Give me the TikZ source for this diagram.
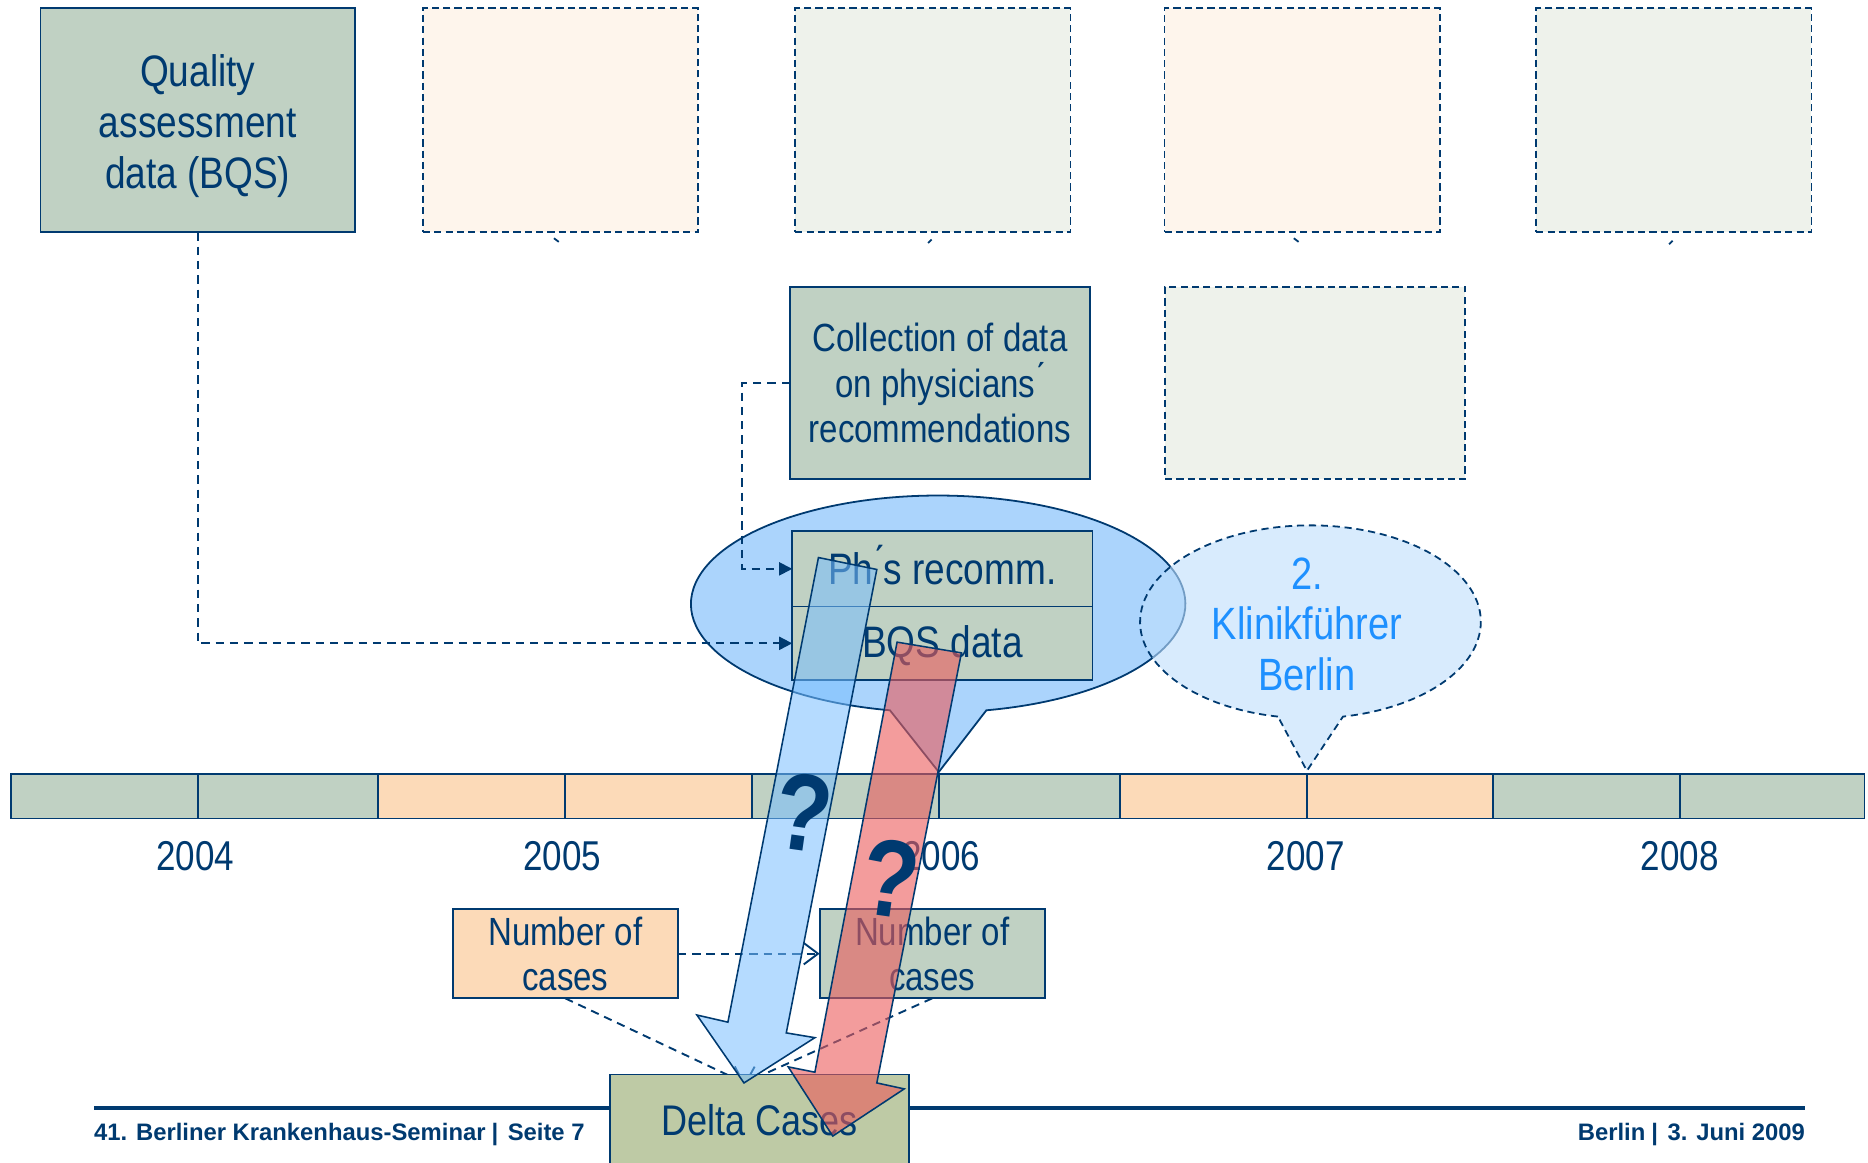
\documentclass[tikz,border=0pt]{standalone}
\usepackage{fontspec}
\setmainfont{Liberation Sans}[FakeStretch=0.84]
\newfontfamily\footfont{Liberation Sans}
\usetikzlibrary{arrows.meta}
\definecolor{dkblue}{RGB}{0,58,112}
\definecolor{boxgreen}{RGB}{192,209,195}
\definecolor{boxpeach}{RGB}{252,218,184}
\definecolor{ghostpeach}{RGB}{254,245,236}
\definecolor{ghostgreen}{RGB}{238,242,235}
\definecolor{deltagreen}{RGB}{190,202,165}
\definecolor{ellblue}{RGB}{120,185,250}
\definecolor{klinikblue}{RGB}{190,222,252}
\definecolor{klinikink}{RGB}{30,144,255}
\definecolor{arrowblue}{RGB}{120,190,255}
\definecolor{arrowred}{RGB}{235,90,90}
\tikzset{
  every node/.style={inner sep=0pt, outer sep=0pt, text=dkblue, align=center},
  solidbox/.style={draw=dkblue, line width=1.5pt, fill=boxgreen},
  ghostbox/.style={draw=dkblue, line width=1.5pt, dash pattern=on 6pt off 3.5pt},
  conn/.style={draw=dkblue, line width=1.6pt, dash pattern=on 7pt off 5pt},
  filltip/.style={-{Triangle[length=11pt,width=11pt]}},
  opentip/.style={-{Straight Barb[length=12pt,width=18pt,line width=1.6pt]}},
  bigtext/.style={font=\fontsize{37}{43}\selectfont},
  midtext/.style={font=\fontsize{33}{38}\selectfont},
  yeartext/.style={font=\fontsize{35}{40}\selectfont},
  foot/.style={font=\footfont\bfseries\fontsize{20}{24}\selectfont},
  qmark/.style={font=\bfseries\fontsize{92}{92}\selectfont, rotate=-8},
  bigarrow/.style={draw=dkblue, line width=1.3pt},
}
\begin{document}
\begin{tikzpicture}[x=1pt,y=-1pt]
\useasboundingbox (0,0) rectangle (1568,975.4);

% top row
\node[solidbox, minimum width=264pt, minimum height=188pt,
      label={[bigtext, yshift=-5pt]center:Quality\\assessment\\data (BQS)}] (qual) at (166,101) {};
\node[ghostbox, fill=ghostpeach, minimum width=231pt, minimum height=188pt] (g1) at (470.5,101) {};
\node[ghostbox, fill=ghostgreen, minimum width=231pt, minimum height=188pt] (g2) at (783,101) {};
\node[ghostbox, fill=ghostpeach, minimum width=231pt, minimum height=188pt] (g3) at (1093,101) {};
\node[ghostbox, fill=ghostgreen, minimum width=231pt, minimum height=188pt] (g4) at (1405,101) {};
\foreach \a/\b/\c/\d in {465/200/469/203, 782/201/779/204, 1086/200/1090/203, 1404/202/1401/205}
  \draw[dkblue, line width=1.5pt] (\a,\b) -- (\c,\d);

% second row
\node[solidbox, midtext, minimum width=252pt, minimum height=161pt] (coll) at (789,321.5) {Collection of data\\on physicians\'{}\\recommendations};
\node[ghostbox, fill=ghostgreen, minimum width=252pt, minimum height=161pt] (g5) at (1104,321.5) {};

% callouts
\path[draw=dkblue, line width=1.5pt, fill=ellblue, fill opacity=0.62]
  (747,596.2) arc[start angle=101.25, end angle=438.75, x radius=207.5, y radius=91] -- (788,648) -- cycle;
\path[draw=dkblue, line width=1.5pt, dash pattern=on 6pt off 4pt, fill=klinikblue, fill opacity=0.6]
  (1072.7,601.5) arc[start angle=101, end angle=439, x radius=143, y radius=81] -- (1097,647) -- cycle;
\node[text=klinikink, font=\fontsize{38}{42.5}\selectfont] (klinik) at (1097,524) {2.\\Klinikführer\\Berlin};

% data boxes in the ellipse
\node[solidbox, minimum width=252pt, minimum height=63pt,
      label={[bigtext, yshift=3pt]center:Ph\'{}s recomm.}] (phs) at (791,477.5) {};
\node[solidbox, minimum width=252pt, minimum height=62pt,
      label={[bigtext, yshift=-2pt]center:BQS data}] (bqs) at (791,540) {};

\draw[conn, filltip] (qual.south) |- (bqs.west);
\draw[conn, filltip] (coll.west) -- ++(-40,0) |- (phs.west);

% timeline
\foreach \a/\b/\c in {9/317/boxgreen, 317/631/boxpeach, 631/940/boxgreen, 940/1253/boxpeach, 1253/1565/boxgreen}
  \fill[\c] (\a,650) rectangle (\b,687);
\foreach \x in {166,317,474,631,788,940,1097,1253,1410}
  \draw[dkblue, line width=1.5pt] (\x,650) -- (\x,687);
\draw[dkblue, line width=1.5pt] (9,650) rectangle (1565,687);
\node[yeartext] (y2004) at (164,719) {2004};
\node[yeartext] (y2005) at (472,719) {2005};
\node[yeartext] (y2006) at (790,719) {2006};
\node[yeartext] (y2007) at (1096,719) {2007};
\node[yeartext] (y2008) at (1410,719) {2008};

% number of cases
\node[draw=dkblue, line width=1.5pt, fill=boxpeach, midtext, minimum width=189pt, minimum height=75pt] (nc1) at (474.5,800.5) {Number of\\cases};
\node[solidbox, midtext, minimum width=189pt, minimum height=75pt] (nc2) at (782.5,800.5) {Number of\\cases};
\draw[conn, opentip] (nc1.east) -- (nc2.west);
\coordinate (dtop) at (625,909);
\draw[conn, opentip] (nc1.south) -- (dtop);
\draw[conn, opentip] (nc2.south) -- (dtop);

% footer
\draw[dkblue, line width=3pt] (79,930) -- (1515,930);
\node[draw=dkblue, line width=1.5pt, fill=deltagreen, font=\fontsize{36}{40}\selectfont, minimum width=251pt, minimum height=76pt, anchor=north] (delta) at (637.5,902) {Delta Cases};
\node[foot, anchor=base west] (footl) at (79,957) {41. Berliner Krankenhaus-Seminar\hspace{5pt}|\hspace{8pt}Seite 7};
\node[foot, anchor=base east] (footr) at (1515,957) {Berlin\hspace{5pt}|\hspace{8pt}3. Juni 2009};

% big arrows
\path[bigarrow, fill=arrowblue, fill opacity=0.55]
  (687,468) -- (736,478) -- (660,867) -- (684,871) -- (624.5,909) -- (585,852) -- (611,858) -- cycle;
\path[bigarrow, fill=arrowred, fill opacity=0.6]
  (753,539) -- (807,548) -- (736,909) -- (759,914) -- (699,953.6) -- (661.6,895.5) -- (684,900) -- cycle;

\node[qmark] (q1) at (675,682) {?};
\node[qmark] (q2) at (748,737) {?};
\end{tikzpicture}
\end{document}
